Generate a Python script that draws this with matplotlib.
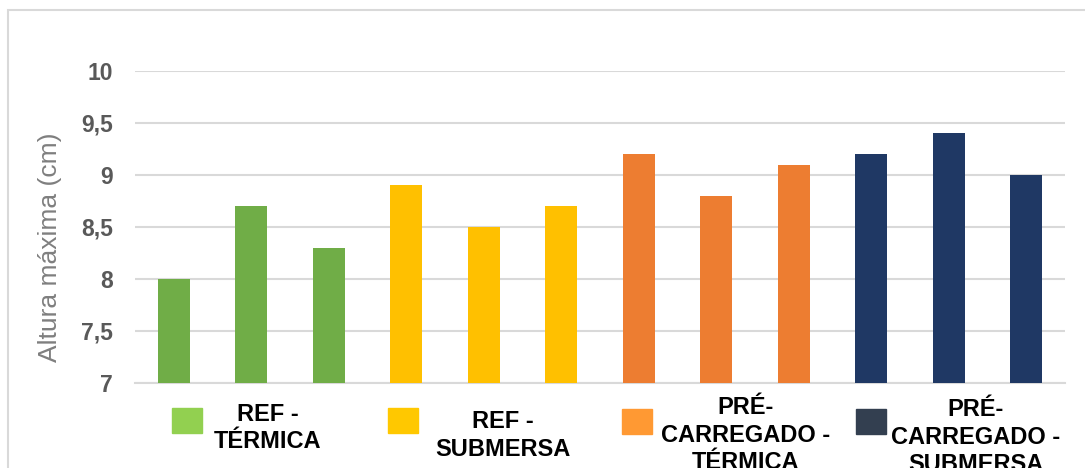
import matplotlib
matplotlib.use('Agg')
import matplotlib.pyplot as plt
from matplotlib.patches import Rectangle
import numpy as np

### Data ###

groups = ['REF -\nTÉRMICA', 'REF -\nSUBMERSA',
          'PRÉ-\nCARREGADO -\nTÉRMICA', 'PRÉ-\nCARREGADO -\nSUBMERSA']
ref_termica = [8.0, 8.7, 8.3]
ref_submersa = [8.9, 8.5, 8.7]
pre_termica = [9.2, 8.8, 9.1]
pre_submersa = [9.2, 9.4, 9.0]
y_ticks = [7, 7.5, 8, 8.5, 9, 9.5, 10]
y_tick_labels = ['7', '7,5', '8', '8,5', '9', '9,5', '10']

### Style ###

bar_colors = ['#70AD47', '#FFC000', '#ED7D31', '#1F3864']
swatch_colors = ['#92D050', '#FFC800', '#FF9933', '#333F50']
grid_gray = '#D9D9D9'

W, H = 1085, 468
plt.rcParams['font.family'] = ['Liberation Sans', 'DejaVu Sans']

fig = plt.figure(figsize=(W / 100, H / 100), dpi=100)
ax = fig.add_axes([135 / W, 1 - 383 / H, 930 / W, (383 - 71) / H])

series = [ref_termica, ref_submersa, pre_termica, pre_submersa]
pos = 0
for vals, color in zip(series, bar_colors):
    xs = np.arange(pos, pos + len(vals))
    ax.bar(xs, np.array(vals) - 7, bottom=7, width=0.41, color=color, zorder=3)
    pos += len(vals)

ax.set_xlim(-0.5, pos - 0.5)
ax.set_ylim(7, 10)
ax.set_yticks(y_ticks)
ax.set_yticklabels(y_tick_labels, fontsize=16.5, fontweight='bold', color='#595959')
ax.set_xticks([])
ax.tick_params(axis='y', length=0, pad=16)
ax.grid(axis='y', color=grid_gray, lw=1.5, zorder=0)
for side in ['top', 'right', 'left']:
    ax.spines[side].set_visible(False)
ax.spines['bottom'].set_color(grid_gray)
ax.spines['bottom'].set_linewidth(1.5)

ax.set_ylabel('Altura máxima (cm)', fontsize=19, color='#7F7F7F', va='center')
ax.yaxis.set_label_coords((50 - 135) / 930, 1 - (247 - 71) / 312)

# chart area border
fig.add_artist(Rectangle((8 / W, -0.1), 1.2, 1.1 - 10 / H, transform=fig.transFigure,
                         fill=False, edgecolor=grid_gray, lw=1.5))

# legend, drawn by hand to follow the wrapped, centered labels
swatch_left = [172, 388, 622, 856]
swatch_top = [408, 408, 409, 409]
text_center = [268, 503, 746, 976]
text_top = [403, 410, 396, 398]
for label, sc, sx, sy, tx, ty in zip(groups, swatch_colors, swatch_left,
                                      swatch_top, text_center, text_top):
    fig.add_artist(Rectangle((sx / W, 1 - (sy + 25) / H), 30 / W, 25 / H,
                             transform=fig.transFigure, color=sc))
    fig.text(tx / W, 1 - ty / H, label, ha='center', va='top',
             multialignment='center', fontsize=17, fontweight='bold',
             color='black', linespacing=1.25)

fig.savefig('out.png', dpi=100)
